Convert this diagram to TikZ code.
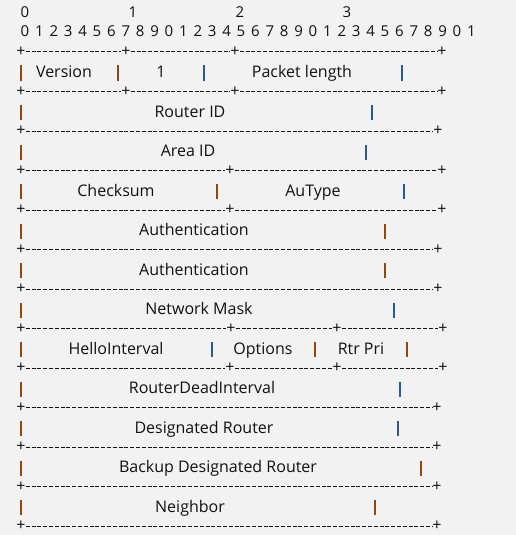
\documentclass[tikz,border=0pt]{standalone}
\usepackage{fontspec}
\setmainfont{Open Sans}
\definecolor{bggray}{HTML}{F2F2F2}
\definecolor{txt}{HTML}{111111}
\definecolor{barbrown}{HTML}{8A4A12}
\definecolor{barblue}{HTML}{2A5A9A}

\begin{document}
\begin{tikzpicture}[x=1pt,y=-1pt,
  every node/.style={font=\fontsize{16}{19}\selectfont, text=txt},
  field/.style={anchor=base, inner sep=0pt},
  digit/.style={anchor=base, inner sep=0pt, font=\fontsize{15}{18}\selectfont},
  plus/.style={inner sep=0pt},
  rule/.style={draw=txt, line width=1pt, dash pattern=on 4pt off 1.8pt},
  barb/.style={fill=barbrown, inner sep=0pt, minimum width=1.6pt, minimum height=15pt},
  barl/.style={fill=barblue, inner sep=0pt, minimum width=1.6pt, minimum height=15pt}]

\fill[bggray] (0,0) rectangle (516,535);
\useasboundingbox (0,0) rectangle (516,535);

% bit numbers
\node[digit] (t0) at (25,18) {0};
\node[digit] (t1) at (133,18) {1};
\node[digit] (t2) at (240,18) {2};
\node[digit] (t3) at (347,18) {3};
\foreach \i in {0,...,31} {
  \pgfmathtruncatemacro\d{mod(\i,10)}
  \node[digit] (b\i) at ({25+14.4*\i},37) {\d};
}

% separators
\node[plus] (s0a) at (21,52) {+};
\node[plus] (s0b) at (126,52) {+};
\node[plus] (s0c) at (235,52) {+};
\node[plus] (s0d) at (442,52) {+};
\draw[rule] (s0a) -- (s0b);
\draw[rule] (s0b) -- (s0c);
\draw[rule] (s0c) -- (s0d);

\node[plus] (s1a) at (21,91.5) {+};
\node[plus] (s1b) at (126,91.5) {+};
\node[plus] (s1c) at (235,91.5) {+};
\node[plus] (s1d) at (442,91.5) {+};
\draw[rule] (s1a) -- (s1b);
\draw[rule] (s1b) -- (s1c);
\draw[rule] (s1c) -- (s1d);

\node[plus] (s2a) at (21,131) {+};
\node[plus] (s2b) at (438,131) {+};
\draw[rule] (s2a) -- (s2b);

\node[plus] (s3a) at (21,170.5) {+};
\node[plus] (s3b) at (230,170.5) {+};
\node[plus] (s3c) at (442,170.5) {+};
\draw[rule] (s3a) -- (s3b);
\draw[rule] (s3b) -- (s3c);

\node[plus] (s4a) at (21,210) {+};
\node[plus] (s4b) at (230,210) {+};
\node[plus] (s4c) at (442,210) {+};
\draw[rule] (s4a) -- (s4b);
\draw[rule] (s4b) -- (s4c);

\node[plus] (s5a) at (21,249.5) {+};
\node[plus] (s5b) at (438,249.5) {+};
\draw[rule] (s5a) -- (s5b);

\node[plus] (s6a) at (21,289) {+};
\node[plus] (s6b) at (438,289) {+};
\draw[rule] (s6a) -- (s6b);

\node[plus] (s7a) at (21,328.5) {+};
\node[plus] (s7b) at (231,328.5) {+};
\node[plus] (s7c) at (337,328.5) {+};
\node[plus] (s7d) at (443,328.5) {+};
\draw[rule] (s7a) -- (s7b);
\draw[rule] (s7b) -- (s7c);
\draw[rule] (s7c) -- (s7d);

\node[plus] (s8a) at (21,368) {+};
\node[plus] (s8b) at (230,368) {+};
\node[plus] (s8c) at (337,368) {+};
\node[plus] (s8d) at (443,368) {+};
\draw[rule] (s8a) -- (s8b);
\draw[rule] (s8b) -- (s8c);
\draw[rule] (s8c) -- (s8d);

\node[plus] (s9a) at (21,407.5) {+};
\node[plus] (s9b) at (437,407.5) {+};
\draw[rule] (s9a) -- (s9b);

\node[plus] (s10a) at (21,447) {+};
\node[plus] (s10b) at (437,447) {+};
\draw[rule] (s10a) -- (s10b);

\node[plus] (s11a) at (21,486.5) {+};
\node[plus] (s11b) at (437,486.5) {+};
\draw[rule] (s11a) -- (s11b);

\node[plus] (s12a) at (21,526) {+};
\node[plus] (s12b) at (437,526) {+};
\draw[rule] (s12a) -- (s12b);

% fields
\node[field] (version) at (64,77.5) {Version};
\node[field] (one) at (161,77.5) {1};
\node[field] (pktlen) at (302,77.5) {Packet length};
\node[barb] (v0a) at (21,73) {};
\node[barb] (v0b) at (118,73) {};
\node[barl] (v0c) at (204,73) {};
\node[barl] (v0d) at (402,73) {};

\node[field] (rid) at (190,117) {Router ID};
\node[barb] (v1a) at (21,112.5) {};
\node[barl] (v1b) at (372,112.5) {};

\node[field] (aid) at (188,156.5) {Area ID};
\node[barb] (v2a) at (21,152) {};
\node[barl] (v2b) at (366,152) {};

\node[field] (csum) at (116,196) {Checksum};
\node[field] (autype) at (313,196) {AuType};
\node[barb] (v3a) at (21,191.5) {};
\node[barb] (v3b) at (217,191.5) {};
\node[barl] (v3c) at (404,191.5) {};

\node[field] (auth1) at (194,235.5) {Authentication};
\node[barb] (v4a) at (21,231) {};
\node[barb] (v4b) at (385,231) {};

\node[field] (auth2) at (194,275) {Authentication};
\node[barb] (v5a) at (21,270.5) {};
\node[barb] (v5b) at (385,270.5) {};

\node[field] (mask) at (199,314.5) {Network Mask};
\node[barb] (v6a) at (21,310) {};
\node[barl] (v6b) at (394,310) {};

\node[field] (hello) at (116,354) {HelloInterval};
\node[field] (opts) at (263,354) {Options};
\node[field] (pri) at (361,354) {Rtr Pri};
\node[barb] (v7a) at (21,349.5) {};
\node[barl] (v7b) at (212,349.5) {};
\node[barb] (v7c) at (315,349.5) {};
\node[barb] (v7d) at (407,349.5) {};

\node[field] (dead) at (202,393.5) {RouterDeadInterval};
\node[barb] (v8a) at (21,389) {};
\node[barl] (v8b) at (400,389) {};

\node[field] (dr) at (204,433) {Designated Router};
\node[barb] (v9a) at (21,428.5) {};
\node[barl] (v9b) at (398,428.5) {};

\node[field] (bdr) at (218,472.5) {Backup Designated Router};
\node[barb] (v10a) at (21,468) {};
\node[barb] (v10b) at (421,468) {};

\node[field] (nbr) at (190,512) {Neighbor};
\node[barb] (v11a) at (21,507.5) {};
\node[barb] (v11b) at (375,507.5) {};
\end{tikzpicture}
\end{document}
